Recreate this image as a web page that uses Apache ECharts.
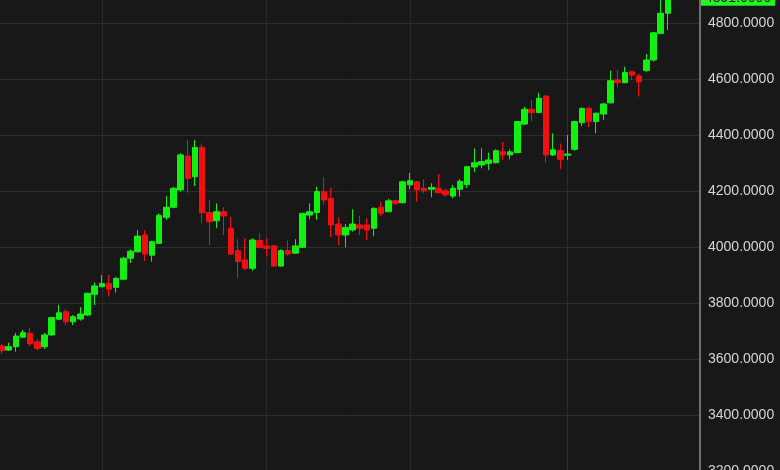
<!DOCTYPE html>
<html>
<head>
<meta charset="utf-8">
<script src="https://cdn.jsdelivr.net/npm/echarts@6/dist/echarts.min.js"></script>
<style>
  html, body { margin: 0; padding: 0; background: #181818; }
  #chart { width: 780px; height: 470px; }
</style>
</head>
<body>
<div id="chart"></div>
<script>
// daily candles
const opens = [3648, 3633, 3645, 3679, 3693, 3663, 3645, 3687, 3743, 3770,
  3734, 3744, 3758, 3832, 3859, 3871, 3857, 3886, 3961, 3984,
  4044, 3972, 4014, 4107, 4143, 4205, 4326, 4252, 4357, 4124,
  4095, 4127, 4068, 3988, 3955, 3925, 4024, 4005, 4005, 3933,
  3989, 3979, 4000, 4115, 4124, 4199, 4175, 4083, 4044, 4062,
  4080, 4080, 4068, 4143, 4127, 4166, 4159, 4223, 4234, 4211,
  4207, 4211, 4202, 4183, 4207, 4224, 4287, 4294, 4300, 4302,
  4341, 4330, 4338, 4440, 4493, 4481, 4540, 4330, 4345, 4329,
  4350, 4445, 4496, 4449, 4476, 4516, 4598, 4588, 4627, 4612,
  4631, 4669, 4764, 4836];
const closes = [3631, 3645, 3683, 3695, 3655, 3639, 3687, 3749, 3766, 3734,
  3752, 3762, 3836, 3862, 3871, 3850, 3889, 3961, 3986, 4040,
  3976, 4020, 4114, 4143, 4211, 4330, 4246, 4357, 4124, 4091,
  4127, 4112, 3976, 3949, 3925, 4026, 4000, 3996, 3933, 3988,
  3976, 4005, 4121, 4127, 4199, 4169, 4080, 4044, 4071, 4083,
  4068, 4062, 4139, 4121, 4166, 4157, 4234, 4238, 4205, 4202,
  4214, 4195, 4187, 4211, 4236, 4288, 4302, 4306, 4312, 4345,
  4330, 4341, 4449, 4493, 4481, 4532, 4330, 4348, 4314, 4333,
  4449, 4496, 4449, 4479, 4512, 4595, 4588, 4624, 4615, 4591,
  4669, 4766, 4836, 4891];
const lows = [3619, 3630, 3627, 3676, 3647, 3633, 3637, 3683, 3740, 3722,
  3722, 3738, 3755, 3794, 3857, 3824, 3838, 3883, 3944, 3981,
  3951, 3949, 4014, 4098, 4139, 4199, 4195, 4219, 4086, 4008,
  4068, 4044, 3972, 3889, 3919, 3916, 3996, 3966, 3931, 3931,
  3969, 3976, 3998, 4100, 4098, 4151, 4036, 4008, 4000, 4056,
  4044, 4026, 4040, 4112, 4126, 4151, 4157, 4207, 4163, 4193,
  4179, 4193, 4181, 4175, 4181, 4212, 4269, 4282, 4276, 4300,
  4312, 4314, 4337, 4437, 4449, 4479, 4302, 4326, 4279, 4312,
  4345, 4433, 4429, 4407, 4455, 4514, 4571, 4586, 4598, 4538,
  4627, 4663, 4761, 4776];
const highs = [3655, 3659, 3694, 3705, 3712, 3673, 3694, 3752, 3794, 3779,
  3758, 3786, 3838, 3874, 3901, 3901, 3895, 3966, 3993, 4062,
  4060, 4024, 4121, 4183, 4216, 4336, 4383, 4383, 4371, 4169,
  4157, 4143, 4109, 4029, 4032, 4032, 4050, 4032, 4008, 3993,
  4024, 4029, 4124, 4157, 4216, 4250, 4214, 4107, 4083, 4136,
  4112, 4104, 4143, 4163, 4173, 4171, 4238, 4266, 4237, 4243,
  4229, 4262, 4211, 4223, 4243, 4290, 4353, 4354, 4338, 4350,
  4377, 4350, 4451, 4502, 4526, 4552, 4544, 4407, 4371, 4401,
  4452, 4500, 4502, 4481, 4516, 4631, 4633, 4645, 4631, 4619,
  4690, 4770, 4885, 4900];

// 94 trading days plus 4 empty slots on the right
const days = Array.from({ length: 98 }, (_, i) => 'D' + (i + 1));
// candles where the vertical grid lines sit (month starts)
const monthStarts = [14, 37, 57, 79];

const yTicks = { min: 3200, max: 5000, step: 200 };

const candles = opens.map((o, i) => [o, closes[i], lows[i], highs[i]]);
const lastClose = closes[closes.length - 1];

const chart = echarts.init(document.getElementById('chart'));
chart.setOption({
  backgroundColor: '#181818',
  animation: false,
  grid: {
    left: -2, right: 80, top: -32.7, bottom: -1.3,
    containLabel: false,
    outerBoundsMode: 'none'
  },
  xAxis: {
    type: 'category',
    data: days,
    boundaryGap: true,
    axisLine: { show: false },
    axisTick: { show: false },
    axisLabel: { show: false },
    splitLine: {
      show: true,
      alignWithLabel: true,
      interval: (idx) => monthStarts.includes(idx),
      lineStyle: { color: '#2c2c2c', width: 1 }
    }
  },
  yAxis: {
    type: 'value',
    position: 'right',
    min: yTicks.min,
    max: yTicks.max,
    interval: yTicks.step,
    axisLine: { show: true, lineStyle: { color: '#8c8c8c', width: 1.5 } },
    axisTick: { show: false },
    axisLabel: {
      margin: 8,
      color: '#d6d6d6',
      fontSize: 14,
      fontFamily: 'Liberation Sans, Arial, sans-serif',
      formatter: (v) => v.toFixed(4)
    },
    splitLine: { lineStyle: { color: '#2c2c2c', width: 1 } }
  },
  series: [{
    type: 'candlestick',
    data: candles,
    barWidth: 6,
    itemStyle: {
      color: '#12f012',
      color0: '#f01010',
      borderColor: '#12f012',
      borderColor0: '#f01010',
      borderWidth: 1
    },
    markLine: {
      silent: true,
      symbol: 'none',
      lineStyle: { color: 'rgba(0,0,0,0)', width: 0 },
      data: [{ yAxis: lastClose }],
      label: {
        show: true,
        position: 'end',
        distance: 1,
        formatter: () => lastClose.toFixed(4),
        backgroundColor: '#22f522',
        color: '#1a1a1a',
        fontSize: 14,
        fontFamily: 'Liberation Sans, Arial, sans-serif',
        padding: [1, 4, 1, 4]
      }
    }
  }]
});
</script>
</body>
</html>
